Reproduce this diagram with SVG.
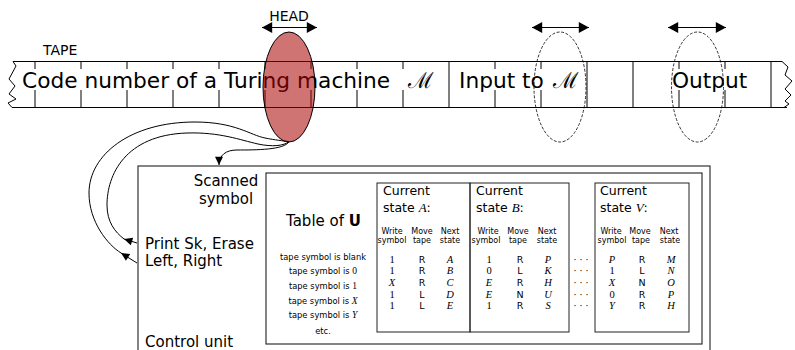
<svg xmlns="http://www.w3.org/2000/svg" width="795" height="350" viewBox="0 0 795 350">
<style>
.sans{font-family:"DejaVu Sans",sans-serif;fill:#000}
.serif{font-family:"Liberation Serif","DejaVu Serif",serif;fill:#000}
.it{font-style:italic}
.cal{font-family:"DejaVu Serif","Liberation Serif",serif;font-size:22px;fill:#000}
.ln{stroke:#000;stroke-width:1;fill:none}
.box{stroke:#333;stroke-width:1.2;fill:none}
.sbox{stroke:#222;stroke-width:1;fill:none}
.tape{font-size:21.7px}
.lbl{font-size:15px}
.small{font-size:8.3px}
.hdr{font-size:8px}
.cur{font-size:12.5px}
.val{font-size:9.5px}
.sval{font-size:10.5px}
</style>
<defs>
<marker id="ah" markerUnits="userSpaceOnUse" markerWidth="12" markerHeight="12" viewBox="-9 -5 10 10" refX="0" refY="0" orient="auto-start-reverse">
<path d="M0,0 L-8.5,-4.5 L-8.5,4.5 Z" fill="#000"/>
</marker>
<marker id="ac" markerUnits="userSpaceOnUse" markerWidth="10" markerHeight="10" viewBox="-8 -4 9 8" refX="0" refY="0" orient="auto">
<path d="M0,0 L-7.5,-3.6 L-7.5,3.6 Z" fill="#000"/>
</marker>
</defs>

<g id="tape">
<text class="sans" x="43" y="55" font-size="14">TAPE</text>
<path class="ln" d="M13,61.5 L782,61.5 M12,107.5 L787,107.5"/>
<path class="ln" d="M13,61.5 L16,66 L9,79 L15,86 L9,94 L16,99 L8,103 L12,107.5"/>
<path class="ln" d="M782,61.5 L788,67 L785,75 L792,81 L785,89 L791,95 L785,101 L789,104 L784,107.5"/>
<path class="ln" d="M35,61.5V69M35,90V107.5M81,61.5V69M81,90V107.5M127,61.5V69M127,90V107.5M173,61.5V69M173,90V107.5M219,61.5V69M219,90V107.5M265,61.5V69M265,90V107.5M311,61.5V69M311,90V107.5M357,61.5V69M357,90V107.5M403,61.5V69M403,90V107.5M449,61.5V107.5M495,61.5V69M495,90V107.5M541,61.5V69M541,90V107.5M587,61.5V107.5M633,61.5V107.5M679,61.5V69M679,90V107.5M725,61.5V69M725,90V107.5M771,61.5V107.5"/>
<text class="sans tape" x="22" y="88">Code number of a Turing machine</text>
<text class="cal" x="420" y="88" text-anchor="middle">ℳ</text>
<text class="sans tape" x="459" y="88">Input to</text>
<text class="cal" x="565" y="88" text-anchor="middle">ℳ</text>
<text class="sans tape" x="672" y="88">Output</text>
</g>

<g id="connectors">
<path class="ln" d="M289,141.5 C285,150 255,150 237,150 C226,150 219,155 219,165" marker-end="url(#ac)"/>
<path class="ln" d="M137,243 L124,239" marker-end="url(#ac)"/>
<path class="ln" d="M124,239 C115,232 107,222 107,205 C107,175 125,135 187,133 C220,132 240,140 258,144 C272,147 284,146 289,141.5"/>
<path class="ln" d="M137,263 L121,253" marker-end="url(#ac)"/>
<path class="ln" d="M121,253 C108,245 89,222 89,193 C89,155 130,122 195,122 C235,122 250,135 265,138 C275,140 284,141 288,141.5"/>
<path class="ln" d="M262,27.5 L317,27.5" marker-start="url(#ah)" marker-end="url(#ah)"/>
<path class="ln" d="M532,27.5 L589,27.5" marker-start="url(#ah)" marker-end="url(#ah)"/>
<path class="ln" d="M668,27.5 L726,27.5" marker-start="url(#ah)" marker-end="url(#ah)"/>
</g>

<g id="head">
<text class="sans" x="289" y="20.5" font-size="14" text-anchor="middle">HEAD</text>
<ellipse cx="289" cy="87" rx="26" ry="55" fill="#aa0000" fill-opacity="0.55" stroke="#000" stroke-width="1"/>
</g>
<g id="input-window">
<ellipse cx="560" cy="87" rx="26" ry="55" fill="none" stroke="#000" stroke-width="0.8" stroke-dasharray="3 1.6"/>
</g>
<g id="output-window">
<ellipse cx="697.5" cy="87" rx="26" ry="55" fill="none" stroke="#000" stroke-width="0.8" stroke-dasharray="3 1.6"/>
</g>

<g id="control-unit">
<rect class="box" x="138" y="166" width="572" height="200"/>
<text class="sans lbl" x="226" y="186" text-anchor="middle">Scanned</text>
<text class="sans lbl" x="226" y="204" text-anchor="middle">symbol</text>
<text class="sans lbl" x="145" y="249">Print Sk, Erase</text>
<text class="sans lbl" x="145" y="266">Left, Right</text>
<text class="sans lbl" x="145" y="347">Control unit</text>
</g>

<g id="table">
<rect class="box" x="266" y="173" width="436" height="171"/>
<text class="sans lbl" x="323.5" y="226" text-anchor="middle">Table of <tspan font-weight="bold">U</tspan></text>
<g class="sans small" text-anchor="middle">
<text x="323" y="259.5">tape symbol is blank</text>
<text x="323" y="274.2">tape symbol is <tspan class="serif" font-size="9.5">0</tspan></text>
<text x="323" y="288.9">tape symbol is <tspan class="serif" font-size="9.5">1</tspan></text>
<text x="323" y="303.6">tape symbol is <tspan class="serif it" font-size="9.5">X</tspan></text>
<text x="323" y="318.3">tape symbol is <tspan class="serif it" font-size="9.5">Y</tspan></text>
<text x="323" y="333.5">etc.</text>
</g>
</g>

<g id="state-A">
<rect class="sbox" x="377" y="183" width="93" height="149"/>
<text class="sans cur" x="383" y="195">Current</text>
<text class="sans cur" x="383" y="211.7">state <tspan class="serif it" font-size="13">A</tspan>:</text>
<g class="sans hdr" text-anchor="middle">
<text x="392" y="234">Write</text><text x="392" y="243">symbol</text>
<text x="422" y="234">Move</text><text x="422" y="243">tape</text>
<text x="450" y="234">Next</text><text x="450" y="243">state</text>
</g>
<g text-anchor="middle">
<text class="serif sval" x="392" y="262.7">1</text><text class="sans val" x="422" y="262.7">R</text><text class="serif sval it" x="450" y="262.7">A</text>
<text class="serif sval" x="392" y="274.3">1</text><text class="sans val" x="422" y="274.3">R</text><text class="serif sval it" x="450" y="274.3">B</text>
<text class="serif sval it" x="392" y="286">X</text><text class="sans val" x="422" y="286">R</text><text class="serif sval it" x="450" y="286">C</text>
<text class="serif sval" x="392" y="297.7">1</text><text class="sans val" x="422" y="297.7">L</text><text class="serif sval it" x="450" y="297.7">D</text>
<text class="serif sval" x="392" y="309.3">1</text><text class="sans val" x="422" y="309.3">L</text><text class="serif sval it" x="450" y="309.3">E</text>
</g>
</g>

<g id="state-B">
<rect class="sbox" x="470" y="183" width="99" height="149"/>
<text class="sans cur" x="476" y="195">Current</text>
<text class="sans cur" x="476" y="211.7">state <tspan class="serif it" font-size="13">B</tspan>:</text>
<g class="sans hdr" text-anchor="middle">
<text x="488" y="234">Write</text><text x="486" y="243">symbol</text>
<text x="518" y="234">Move</text><text x="518" y="243">tape</text>
<text x="547" y="234">Next</text><text x="547" y="243">state</text>
</g>
<g text-anchor="middle">
<text class="serif sval" x="489" y="262.7">1</text><text class="sans val" x="520" y="262.7">R</text><text class="serif sval it" x="548" y="262.7">P</text>
<text class="serif sval" x="489" y="274.3">0</text><text class="sans val" x="520" y="274.3">L</text><text class="serif sval it" x="548" y="274.3">K</text>
<text class="serif sval it" x="489" y="286">E</text><text class="sans val" x="520" y="286">R</text><text class="serif sval it" x="548" y="286">H</text>
<text class="serif sval it" x="489" y="297.7">E</text><text class="sans val" x="520" y="297.7">N</text><text class="serif sval it" x="548" y="297.7">U</text>
<text class="serif sval" x="489" y="309.3">1</text><text class="sans val" x="520" y="309.3">R</text><text class="serif sval it" x="548" y="309.3">S</text>
</g>
</g>

<g id="ellipsis" class="sans val" text-anchor="middle">
<text x="581" y="262.7">· · ·</text>
<text x="581" y="274.3">· · ·</text>
<text x="581" y="286">· · ·</text>
<text x="581" y="297.7">· · ·</text>
<text x="581" y="309.3">· · ·</text>
</g>

<g id="state-V">
<rect class="sbox" x="595" y="183" width="94" height="149"/>
<text class="sans cur" x="600" y="195">Current</text>
<text class="sans cur" x="600" y="211.7">state <tspan class="serif it" font-size="13">V</tspan>:</text>
<g class="sans hdr" text-anchor="middle">
<text x="611" y="234">Write</text><text x="612" y="243">symbol</text>
<text x="640" y="234">Move</text><text x="641" y="243">tape</text>
<text x="669" y="234">Next</text><text x="670" y="243">state</text>
</g>
<g text-anchor="middle">
<text class="serif sval it" x="612" y="262.7">P</text><text class="sans val" x="642" y="262.7">R</text><text class="serif sval it" x="671" y="262.7">M</text>
<text class="serif sval" x="612" y="274.3">1</text><text class="sans val" x="642" y="274.3">L</text><text class="serif sval it" x="671" y="274.3">N</text>
<text class="serif sval it" x="612" y="286">X</text><text class="sans val" x="642" y="286">N</text><text class="serif sval it" x="671" y="286">O</text>
<text class="serif sval" x="612" y="297.7">0</text><text class="sans val" x="642" y="297.7">R</text><text class="serif sval it" x="671" y="297.7">P</text>
<text class="serif sval it" x="612" y="309.3">Y</text><text class="sans val" x="642" y="309.3">R</text><text class="serif sval it" x="671" y="309.3">H</text>
</g>
</g>
</svg>
